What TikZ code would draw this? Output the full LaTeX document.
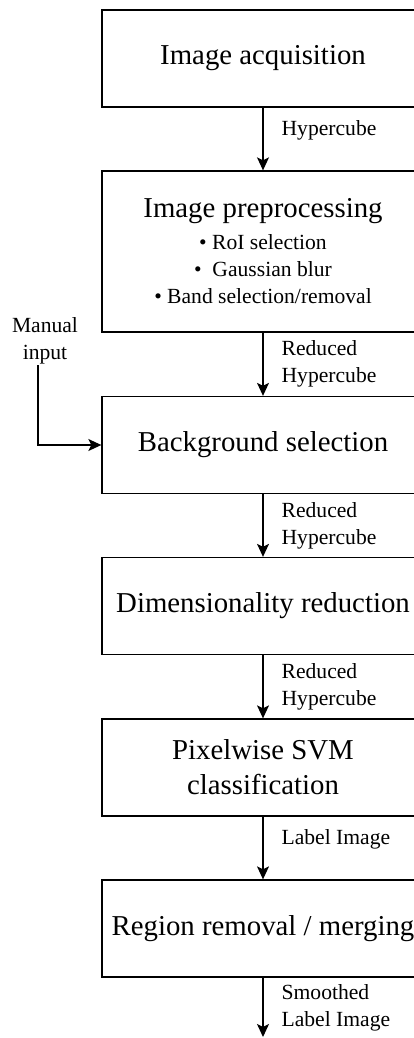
\documentclass[tikz,border=0pt]{standalone}
\usepackage{fontspec}
\setmainfont{Liberation Serif}
\usetikzlibrary{arrows.meta}
\newcommand{\stagefont}{\fontsize{28.8}{35}\selectfont}
\newcommand{\labfont}{\fontsize{21.6}{27.5}\selectfont}

\begin{document}
\begin{tikzpicture}[x=1pt, y=-1pt, line width=1.3pt,
        stage/.style={draw, minimum width=322pt, minimum height=97pt, inner sep=0pt, align=center, font=\stagefont},
        flow/.style={-{Stealth[length=13pt, width=12pt, inset=3pt]}},
        lab/.style={anchor=west, align=left, inner sep=0pt, font=\labfont}]
    \useasboundingbox (0,0) rectangle (414,1038);
    \clip (0,0) rectangle (414,1038);
    % stages
    \node[stage] (acq) at (263,58.5) {Image acquisition};
    \node[stage, minimum height=161pt] (prep) at (263,251.5) {Image preprocessing\\[-3pt]
        {\labfont • RoI selection}\\[-8pt]
        {\labfont •\ \ Gaussian blur}\\[-8pt]
        {\labfont • Band selection/removal}};
    \node[stage] (bg) at (263,445) {Background selection};
    \node[stage] (dim) at (263,606) {Dimensionality reduction};
    \node[stage] (svm) at (263,767.5) {Pixelwise SVM\\classification};
    \node[stage] (reg) at (263,928.5) {Region removal / merging};
    \coordinate (out) at (263,1037);
    % side input
    \node[lab, anchor=center, align=center] (man) at (45,341) {Manual\\input};
    % arrows
    \draw[flow] (acq) -- (prep);
    \draw[flow] (prep) -- (bg);
    \draw[flow] (bg) -- (dim);
    \draw[flow] (dim) -- (svm);
    \draw[flow] (svm) -- (reg);
    \draw[flow] (reg.south) -- (out);
    \draw[flow] ([xshift=-7pt]man.south) |- (bg.west);
    % edge labels
    \node[lab] (l1) at (281,130) {Hypercube};
    \node[lab] (l2) at (281,364) {Reduced\\Hypercube};
    \node[lab] (l3) at (281,526) {Reduced\\Hypercube};
    \node[lab] (l4) at (281,687) {Reduced\\Hypercube};
    \node[lab] (l5) at (281,839) {Label Image};
    \node[lab] (l6) at (281,1008) {Smoothed\\Label Image};
\end{tikzpicture}
\end{document}
